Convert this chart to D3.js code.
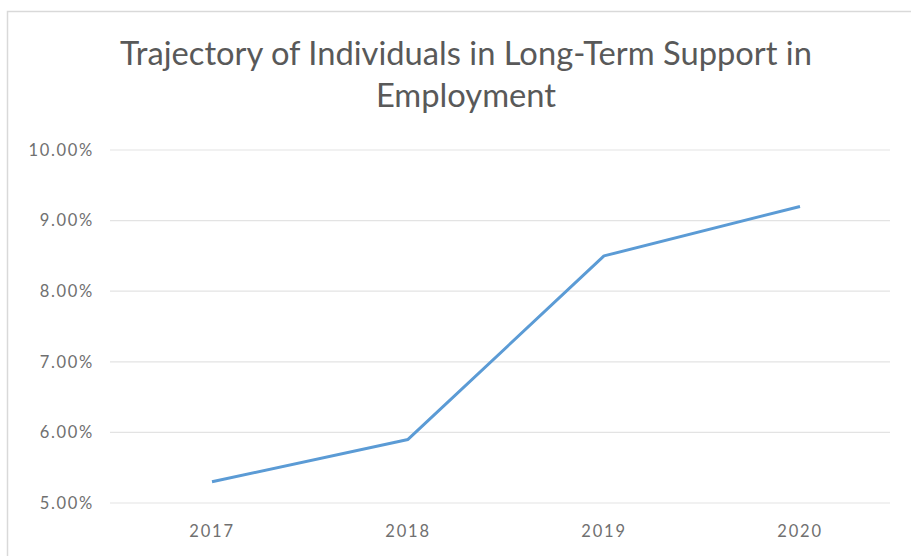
<!DOCTYPE html>
<html><head><meta charset="utf-8">
<script src="https://cdn.jsdelivr.net/npm/d3@7"></script>
<style>body{margin:0;background:#fff;}svg{display:block;}</style>
</head><body>
<svg id="c" width="911" height="556"></svg>
<script>
const years = ["2017","2018","2019","2020"];
const values = [0.053, 0.059, 0.085, 0.092];
const yTicks = [0.05, 0.06, 0.07, 0.08, 0.09, 0.10];
const titleLines = ["Trajectory of Individuals in Long-Term Support in", "Employment"];

const svg = d3.select("#c");
const font = "Lato, 'Open Sans', sans-serif";
svg.append("rect").attr("x",0).attr("y",0).attr("width",911).attr("height",556).attr("fill","#fff");
// chart border
svg.append("path").attr("d","M7.5,556 L7.5,11.5 L911,11.5").attr("fill","none").attr("stroke","#d9d9d9").attr("stroke-width",1.5);

const m = {left:110, right:890, top:150, bottom:503};
const x = d3.scaleBand().domain(years).range([114, 898]);
const y = d3.scaleLinear().domain([0.05, 0.10]).range([m.bottom, m.top]);

svg.append("g").selectAll("line").data(yTicks).join("line")
  .attr("x1", m.left).attr("x2", m.right)
  .attr("y1", d=>y(d)).attr("y2", d=>y(d))
  .attr("stroke","#e3e3e3").attr("stroke-width",1.2);

const yAxis = d3.axisLeft(y).tickValues(yTicks).tickSize(0).tickPadding(0).tickFormat(d3.format(".2%"));
svg.append("g").attr("transform",`translate(94,0)`).call(yAxis)
  .call(g=>g.select(".domain").remove())
  .selectAll("text").attr("font-family",font).attr("font-size",16.5).attr("letter-spacing","1.7px").attr("fill","#707070");

const xAxis = d3.axisBottom(x).tickSize(0).tickPadding(0);
svg.append("g").attr("transform",`translate(0,${m.bottom+22})`).call(xAxis)
  .call(g=>g.select(".domain").remove())
  .selectAll("text").attr("font-family",font).attr("font-size",16.5).attr("letter-spacing","1.8px").attr("fill","#707070");

const line = d3.line().x((d,i)=>x(years[i])+x.bandwidth()/2).y(d=>y(d));
svg.append("path").datum(values).attr("d",line).attr("fill","none")
  .attr("stroke","#5b9bd5").attr("stroke-width",3).attr("stroke-linejoin","round");

svg.append("g").selectAll("text").data(titleLines).join("text")
  .attr("x",466).attr("y",(d,i)=>65+i*42).attr("text-anchor","middle")
  .attr("font-family",font).attr("font-size",32.7).attr("fill","#595959").text(d=>d);
</script>
</body></html>
